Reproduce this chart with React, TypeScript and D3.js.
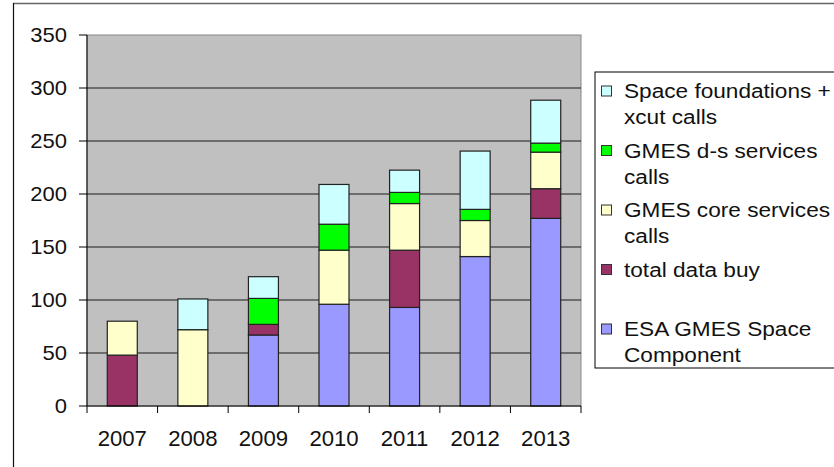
import React from "react";
import * as d3 from "d3";

const years = ["2007", "2008", "2009", "2010", "2011", "2012", "2013"];
const esaSpace = [0, 0, 67, 96, 93, 141, 177];
const dataBuy = [48, 0, 10, 0, 54, 0, 28];
const coreServices = [32, 72, 0, 51, 44, 34, 34.5];
const dsServices = [0, 0, 24.5, 24.5, 10.5, 10.5, 8.5];
const foundations = [0, 29, 20.5, 37.5, 21, 55, 40.5];
const yTicks = [0, 50, 100, 150, 200, 250, 300, 350];

const seriesNames = [
  "ESA GMES Space Component",
  "total data buy",
  "GMES core services calls",
  "GMES d-s services calls",
  "Space foundations + xcut calls",
];
const seriesValues = [esaSpace, dataBuy, coreServices, dsServices, foundations];
const seriesColors = ["#9999FF", "#993366", "#FFFFCC", "#00FF00", "#CCFFFF"];

const legendLines: string[][] = [
  ["Space foundations +", "xcut calls"],
  ["GMES d-s services", "calls"],
  ["GMES core services", "calls"],
  ["total data buy"],
  ["ESA GMES Space", "Component"],
];
const legendColorIdx = [4, 3, 2, 1, 0];

export default function App() {
  const W = 834, H = 467;
  const left = 87, right = 581, top = 35, bottom = 406;
  const x = d3.scaleBand<string>().domain(years).range([left, right]).paddingInner(0.575).paddingOuter(0.2875);
  const y = d3.scaleLinear().domain([0, 350]).range([bottom, top]);
  const step = (right - left) / years.length;

  const table = years.map((yr, i) => {
    const o: any = { year: yr };
    seriesNames.forEach((n, k) => (o[n] = seriesValues[k][i]));
    return o;
  });
  const stacked = d3.stack<any>().keys(seriesNames)(table);

  const font = "'Liberation Sans', Arial, sans-serif";

  return (
    <svg width={W} height={H} style={{ position: "absolute", left: 0, top: 0, background: "#fff" }} fontFamily={font}>
      <rect x={0} y={0} width={W} height={H} fill="#fff" />
      {/* outer frame */}
      <line x1={13} x2={W} y1={3.5} y2={3.5} stroke="#666" strokeWidth={1.5} />
      <line x1={13.5} x2={13.5} y1={3} y2={H} stroke="#111" strokeWidth={1.2} />
      {/* plot area */}
      <rect x={left} y={top} width={right - left} height={bottom - top} fill="#C0C0C0" stroke="#888" strokeWidth={1} />
      {yTicks.filter((t) => t > 0 && t < 350).map((t) => (
        <line key={t} x1={left} x2={right} y1={y(t)} y2={y(t)} stroke="#1a1a1a" strokeWidth={1.2} />
      ))}
      {/* bars */}
      {stacked.map((s, k) =>
        s.map((d, i) => {
          const h = y(d[0]) - y(d[1]);
          if (h <= 0.01) return null;
          return (
            <rect key={k + "-" + i} x={x(years[i])!} y={y(d[1])} width={x.bandwidth()} height={h}
              fill={seriesColors[k]} stroke="#222" strokeWidth={1.2} />
          );
        })
      )}
      {/* axes */}
      <line x1={left} x2={left} y1={top} y2={bottom} stroke="#000" strokeWidth={1} />
      <line x1={left} x2={right} y1={bottom} y2={bottom} stroke="#000" strokeWidth={1} />
      {yTicks.map((t) => (
        <g key={t}>
          <line x1={79} x2={left} y1={y(t)} y2={y(t)} stroke="#000" strokeWidth={1} />
          <text transform={`translate(67,${y(t) + 7}) scale(1.1,1)`} textAnchor="end" fontSize={20} fill="#111">{t}</text>
        </g>
      ))}
      {d3.range(years.length + 1).map((i) => (
        <line key={i} x1={left + i * step} x2={left + i * step} y1={bottom} y2={bottom + 7} stroke="#000" strokeWidth={1} />
      ))}
      {years.map((yr) => (
        <text key={yr} transform={`translate(${x(yr)! + x.bandwidth() / 2},446) scale(1.03,1)`} textAnchor="middle" fontSize={21.5} fill="#111">{yr}</text>
      ))}
      {/* legend */}
      <rect x={595} y={72} width={260} height={296} fill="#fff" stroke="#000" strokeWidth={1} />
      {legendLines.map((lines, j) => {
        const cy = 91 + j * 59.5;
        return (
          <g key={j}>
            <rect x={601.5} y={cy - 5} width={10} height={10} fill={seriesColors[legendColorIdx[j]]} stroke="#333" strokeWidth={1} />
            {lines.map((ln, m) => (
              <text key={m} transform={`translate(624,${cy + 7 + m * 26}) scale(1.16,1)`} fontSize={19.5} fill="#111">{ln}</text>
            ))}
          </g>
        );
      })}
    </svg>
  );
}
